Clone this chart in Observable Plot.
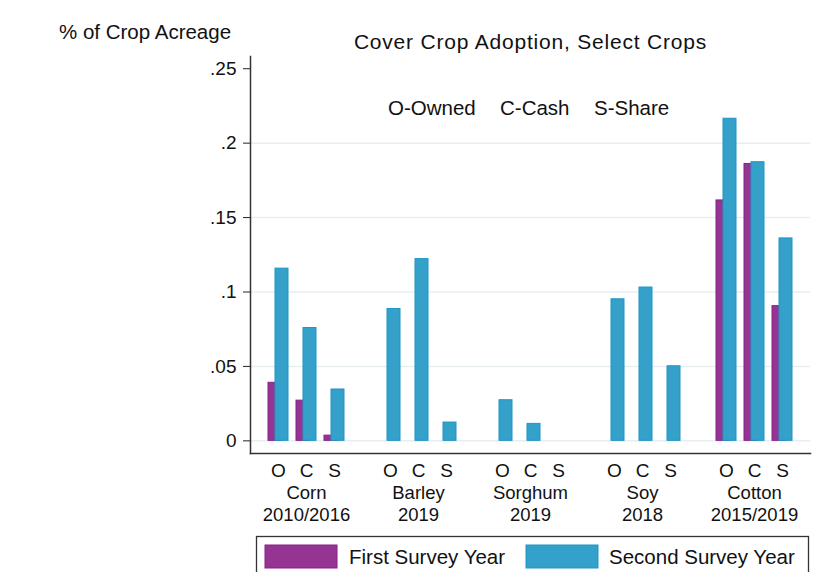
<!DOCTYPE html>
<html>
<head>
<meta charset="utf-8">
<script src="https://cdn.jsdelivr.net/npm/d3@7"></script>
<script src="https://cdn.jsdelivr.net/npm/@observablehq/plot@0.6"></script>
<style>
  html, body { margin: 0; padding: 0; background: #fff; overflow: hidden; }
  #chart { width: 817px; height: 572px; position: relative; }
</style>
</head>
<body>
<div id="chart"></div>
<script>
// ---- Data ----
const crops = ["Corn", "Barley", "Sorghum", "Soy", "Cotton"];
const surveyYears = ["2010/2016", "2019", "2019", "2018", "2015/2019"];
const tenures = ["O", "C", "S"];
// First Survey Year share of crop acreage (O, C, S), null = no bar
const firstYear = [
  [0.039, 0.027, 0.0035],
  [null, null, null],
  [null, null, null],
  [null, null, null],
  [0.1615, 0.186, 0.0905]
];
// Second Survey Year share of crop acreage (O, C, S)
const secondYear = [
  [0.1157, 0.0758, 0.0345],
  [0.0886, 0.1221, 0.0123],
  [0.0273, 0.0114, null],
  [0.0951, 0.103, 0.0501],
  [0.2164, 0.1872, 0.136]
];
const yTicks = [0, 0.05, 0.1, 0.15, 0.2, 0.25];
const yTickLabels = ["0", ".05", ".1", ".15", ".2", ".25"];
const gridTicks = [0, 0.05, 0.1, 0.15, 0.2];
const seriesNames = ["First Survey Year", "Second Survey Year"];
const seriesFill = ["#963493", "#33a1c9"];
const seriesStroke = ["#8a1f88", "#1f97c5"];
const yDomain = [-0.0085, 0.2582];

// ---- Build table ----
const slots = [];
crops.forEach((c, i) => {
  if (i > 0) slots.push("gap" + i);
  tenures.forEach(t => slots.push(c + "|" + t));
});
const rows = [];
crops.forEach((c, i) => {
  tenures.forEach((t, j) => {
    rows.push({slot: c + "|" + t, series: 0, value: firstYear[i][j]});
    rows.push({slot: c + "|" + t, series: 1, value: secondYear[i][j]});
  });
});
const first = rows.filter(d => d.series === 0 && d.value != null);
const second = rows.filter(d => d.series === 1 && d.value != null);
const cropLabels = crops.map((c, i) => ({slot: c + "|C", text: c + "\n" + surveyYears[i]}));

const font = "'Liberation Sans', Arial, Helvetica, sans-serif";

const plot = Plot.plot({
  width: 817,
  height: 572,
  marginLeft: 250,
  marginRight: 7,
  marginTop: 56,
  marginBottom: 119,
  style: {fontFamily: font, background: "#fff", color: "#111"},
  x: {type: "band", domain: slots, paddingInner: 0.3, paddingOuter: 0.45, axis: null},
  y: {domain: yDomain, axis: null},
  marks: [
    Plot.gridY(gridTicks, {stroke: "#e6eef2", strokeOpacity: 1, strokeWidth: 1.5}),
    Plot.barY(first, {x: "slot", y: "value", fill: seriesFill[0], stroke: seriesStroke[0], strokeWidth: 1, insetRight: 7}),
    Plot.barY(second, {x: "slot", y: "value", fill: seriesFill[1], stroke: seriesStroke[1], strokeWidth: 1, insetLeft: 7}),
    Plot.axisY(yTicks, {
      tickSize: 7, tickPadding: 7, fontSize: 19, stroke: "#222", label: null,
      tickFormat: d => yTickLabels[yTicks.indexOf(d)], color: "#111"
    }),
    Plot.axisX(slots, {
      tickSize: 0, tickPadding: 10, fontSize: 19, label: null,
      tickFormat: s => s.startsWith("gap") ? "" : s.split("|")[1]
    }),
    Plot.text(cropLabels, {
      x: "slot", text: "text", frameAnchor: "bottom", lineAnchor: "top",
      dy: 30, fontSize: 18.5, lineHeight: 1.17, fill: "#111"
    }),
    Plot.frame({anchor: "left", stroke: "#333", strokeWidth: 1.5}),
    Plot.frame({anchor: "bottom", stroke: "#333", strokeWidth: 1.5})
  ]
});

document.getElementById("chart").appendChild(plot);
const svg = d3.select(plot);
svg.style("overflow", "visible");

function addText(sel, x, y, txt, size, anchor) {
  return sel.append("text").attr("x", x).attr("y", y)
    .attr("text-anchor", anchor || "start")
    .attr("font-family", font).attr("font-size", size).attr("fill", "#111")
    .text(txt);
}

// Titles and annotations
addText(svg, 59, 38.5, "% of Crop Acreage", 20.5);
addText(svg, 530.5, 49.3, "Cover Crop Adoption, Select Crops", 21, "middle").attr("letter-spacing", "0.8px");
[["O-Owned", 388], ["C-Cash", 500], ["S-Share", 594]].forEach(([t, x]) => addText(svg, x, 115, t, 20.5));

// Legend
const lg = svg.append("g");
lg.append("rect").attr("x", 256.5).attr("y", 536.5).attr("width", 552).attr("height", 44)
  .attr("fill", "#fff").attr("stroke", "#333").attr("stroke-width", 1.3);
const legendItems = [[265, 349], [526, 609]];
seriesNames.forEach((name, i) => {
  const [sx, tx] = legendItems[i];
  lg.append("rect").attr("x", sx).attr("y", 545).attr("width", 72).attr("height", 23)
    .attr("fill", seriesFill[i]).attr("stroke", seriesStroke[i]).attr("stroke-width", 1);
  addText(lg, tx, 563.5, name, 20.5);
});
</script>
</body>
</html>
